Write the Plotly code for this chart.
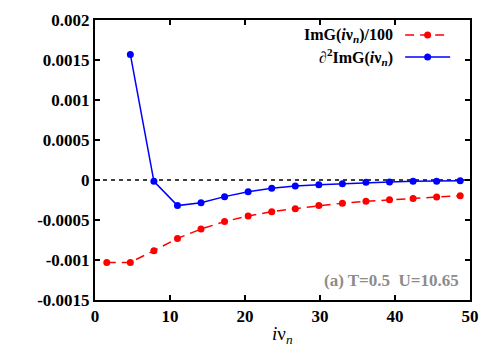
import numpy as np
import plotly.graph_objects as go

# Matsubara frequencies nu_n = (2n+1) pi T, T = 0.5
nu = [1.571, 4.712, 7.854, 10.996, 14.137, 17.279, 20.420, 23.562,
      26.704, 29.845, 32.987, 36.128, 39.270, 42.412, 45.553, 48.695]

img_over_100 = [-0.00103, -0.00103, -0.000883, -0.00073, -0.000613, -0.00052,
                -0.00045, -0.000396, -0.000358, -0.00032, -0.00029, -0.000267,
                -0.000246, -0.00023, -0.000213, -0.000196]

nu_d2 = nu[1:]
d2_img = [0.00157, -0.000017, -0.00032, -0.000283, -0.000208, -0.000146,
          -0.000104, -0.000075, -0.000058, -0.000046, -0.000029, -0.000025,
          -0.000017, -0.000015, -0.00001]

x_ticks = [0, 10, 20, 30, 40, 50]
y_ticks = [-0.0015, -0.001, -0.0005, 0, 0.0005, 0.001, 0.0015, 0.002]
y_labels = ["-0.0015", "-0.001", "-0.0005", "0", "0.0005", "0.001", "0.0015", "0.002"]

legend_names = ["ImG(<i>i</i>ν<sub><i>n</i></sub>)/100",
                "∂<sup>2</sup>ImG(<i>i</i>ν<sub><i>n</i></sub>)"]

RED = "#ff0000"
BLUE = "#0000ff"
FONT = "Liberation Serif"

fig = go.Figure()

# zero reference line
fig.add_trace(go.Scatter(x=[0, 50], y=[0, 0], mode="lines",
                         line=dict(color="black", width=1.5, dash="4px,4px"),
                         hoverinfo="skip", showlegend=False))

fig.add_trace(go.Scatter(x=nu, y=img_over_100, mode="lines+markers",
                         line=dict(color=RED, width=1.5, dash="9px,6px"),
                         marker=dict(color=RED, size=7), showlegend=False))
fig.add_trace(go.Scatter(x=nu_d2, y=d2_img, mode="lines+markers",
                         line=dict(color=BLUE, width=1.5),
                         marker=dict(color=BLUE, size=7), showlegend=False))

# legend samples on an overlay axis (symbol right of text, gnuplot style)
rows = [0.946, 0.868]
styles = [(RED, "9px,6px"), (BLUE, "solid")]
for (col, dash), yy in zip(styles, rows):
    fig.add_trace(go.Scatter(x=[0.827, 0.947], y=[yy, yy], mode="lines",
                             line=dict(color=col, width=1.5, dash=dash),
                             xaxis="x2", yaxis="y2", showlegend=False,
                             hoverinfo="skip"))
    fig.add_trace(go.Scatter(x=[0.887], y=[yy], mode="markers",
                             marker=dict(color=col, size=7),
                             xaxis="x2", yaxis="y2", showlegend=False,
                             hoverinfo="skip"))

annotations = []
for name, yy in zip(legend_names, rows):
    annotations.append(dict(x=0.80, y=yy, xref="paper", yref="paper",
                            text="<b>%s</b>" % name, showarrow=False,
                            xanchor="right", yanchor="middle",
                            font=dict(family=FONT, size=16, color="black")))
annotations.append(dict(x=0.975, y=0.068, xref="paper", yref="paper",
                        text="<b>(a) T=0.5  U=10.65</b>", showarrow=False,
                        xanchor="right", yanchor="middle",
                        font=dict(family=FONT, size=17, color="#8c8c8c")))
# x axis title
annotations.append(dict(x=0.5, y=-0.075, xref="paper", yref="paper",
                        text="<i>i</i>ν<sub><i>n</i></sub>",
                        showarrow=False, xanchor="center", yanchor="top",
                        font=dict(family=FONT, size=19, color="black")))

axis_common = dict(showgrid=False, zeroline=False, showline=True,
                   linecolor="black", linewidth=2, mirror="ticks",
                   ticks="inside", ticklen=5, tickwidth=1.5, tickcolor="black",
                   automargin=False,
                   tickfont=dict(family=FONT, size=17, color="black"))

# page body adds an 8px offset, so margins are shifted to compensate
fig.update_layout(
    width=500, height=350,
    margin=dict(l=87, r=38, t=12, b=58),
    paper_bgcolor="white", plot_bgcolor="white",
    xaxis=dict(range=[0, 50], tickvals=x_ticks,
               ticktext=["<b>%d</b>" % v for v in x_ticks],
               **axis_common),
    yaxis=dict(range=[-0.0015, 0.002], tickvals=y_ticks,
               ticktext=["<b>%s</b>" % s for s in y_labels],
               **axis_common),
    xaxis2=dict(range=[0, 1], overlaying="x", visible=False),
    yaxis2=dict(range=[0, 1], overlaying="y", visible=False),
    annotations=annotations,
)

fig.write_html("out.html")
